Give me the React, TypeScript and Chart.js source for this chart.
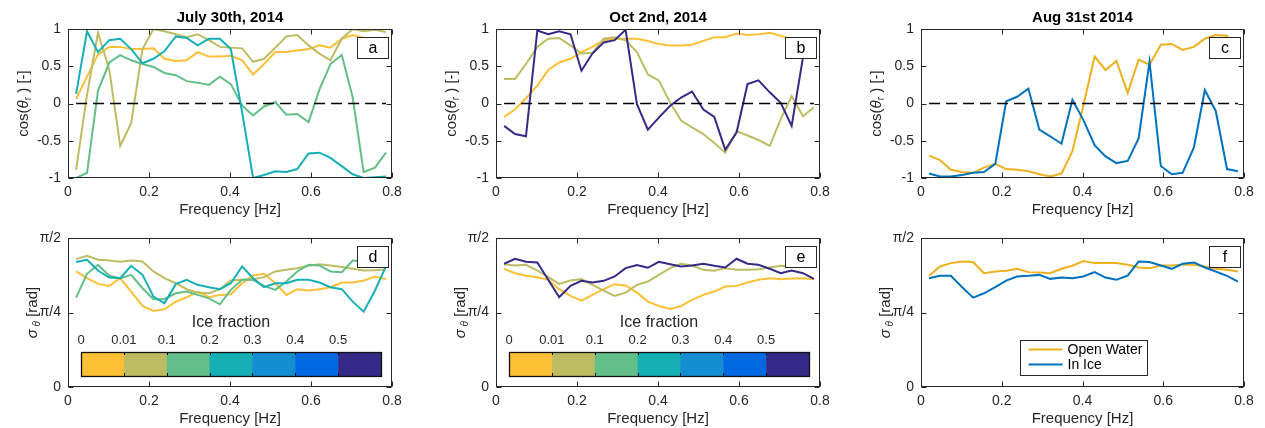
import React, { useEffect, useRef } from "react";
import { Chart, registerables } from "chart.js";

Chart.register(...registerables);

// Frequency bins shared by every panel [Hz]
const freq = [
  0.020, 0.047, 0.074, 0.102, 0.129, 0.156, 0.184, 0.211, 0.238, 0.266,
  0.293, 0.320, 0.348, 0.375, 0.402, 0.430, 0.457, 0.484, 0.512, 0.539,
  0.566, 0.594, 0.621, 0.648, 0.676, 0.703, 0.730, 0.758, 0.785,
];

// July 30th, 2014 — cos(theta_r) per ice fraction
const julyCos0 = [0.06, 0.36, 0.66, 0.76, 0.76, 0.73, 0.73, 0.74, 0.60, 0.57, 0.58, 0.69, 0.63, 0.63, 0.64, 0.58, 0.39, 0.53, 0.69, 0.69, 0.71, 0.73, 0.78, 0.75, 0.87, 0.92, 0.88, 0.87, 0.86];
const julyCos001 = [-0.89, 0.12, 0.95, 0.45, -0.57, -0.26, 0.73, 1.0, 0.97, 0.93, 0.89, 0.93, 0.85, 0.76, 0.75, 0.74, 0.56, 0.60, 0.75, 0.90, 0.92, 0.78, 0.67, 0.58, 0.87, 1.0, 0.97, 0.99, 0.96];
const julyCos01 = [-1.0, -0.93, 0.17, 0.55, 0.65, 0.58, 0.53, 0.49, 0.41, 0.38, 0.30, 0.28, 0.25, 0.36, 0.26, -0.03, -0.16, -0.04, 0.02, -0.15, -0.14, -0.25, 0.19, 0.53, 0.65, 0.08, -0.92, -0.86, -0.66];
const julyCos02 = [0.13, 0.97, 0.69, 0.85, 0.87, 0.73, 0.54, 0.60, 0.70, 0.90, 0.88, 0.78, 0.87, 0.87, 0.73, -0.12, -1.0, -0.96, -0.91, -0.92, -0.88, -0.67, -0.66, -0.73, -0.84, -0.95, -1.0, -0.99, -0.98];

// Oct 2nd, 2014 — cos(theta_r)
const octCos0 = [-0.18, -0.08, 0.07, 0.24, 0.45, 0.55, 0.60, 0.69, 0.76, 0.85, 0.87, 0.87, 0.87, 0.84, 0.80, 0.78, 0.78, 0.79, 0.84, 0.89, 0.89, 0.94, 0.92, 0.93, 0.95, 0.91, 0.86, 0.84, 0.83];
const octCos001 = [0.33, 0.33, 0.53, 0.76, 0.87, 0.88, 0.78, 0.67, 0.68, 0.87, 0.89, 0.85, 0.69, 0.39, 0.31, 0.01, -0.23, -0.32, -0.41, -0.53, -0.66, -0.37, -0.43, -0.49, -0.57, -0.21, 0.10, -0.17, -0.05];
const octCos05 = [-0.30, -0.41, -0.44, 0.98, 0.93, 0.97, 0.93, 0.44, 0.67, 0.82, 0.85, 0.99, -0.01, -0.35, -0.19, -0.03, 0.08, 0.16, -0.08, -0.18, -0.62, -0.39, 0.26, 0.31, 0.15, 0.01, -0.30, 0.62, 0.88];

// Aug 31st 2014 — cos(theta_r)
const augCosOpen = [-0.70, -0.76, -0.89, -0.92, -0.93, -0.86, -0.81, -0.88, -0.89, -0.91, -0.95, -0.98, -0.94, -0.64, -0.03, 0.63, 0.45, 0.57, 0.14, 0.59, 0.52, 0.79, 0.80, 0.72, 0.76, 0.87, 0.92, 0.91, 0.60];
const augCosIce = [-0.94, -0.98, -0.98, -0.96, -0.93, -0.92, -0.81, 0.03, 0.09, 0.20, -0.35, -0.44, -0.54, 0.05, -0.22, -0.56, -0.71, -0.80, -0.77, -0.47, 0.56, -0.84, -0.95, -0.93, -0.59, 0.18, -0.10, -0.88, -0.91];

// July 30th, 2014 — directional spread sigma_theta [rad]
const julySig0 = [1.218, 1.147, 1.087, 1.066, 1.147, 1.006, 0.854, 0.801, 0.819, 0.900, 0.946, 1.006, 0.946, 0.971, 0.978, 1.094, 1.175, 1.193, 1.094, 0.971, 1.031, 1.017, 1.031, 1.052, 1.101, 1.101, 1.122, 1.165, 1.137];
const julySig001 = [1.348, 1.384, 1.341, 1.334, 1.320, 1.334, 1.324, 1.218, 1.147, 1.094, 1.031, 0.995, 0.988, 1.031, 1.122, 1.130, 1.137, 1.158, 1.218, 1.235, 1.253, 1.278, 1.295, 1.281, 1.264, 1.246, 1.228, 1.230, 1.240];
const julySig01 = [0.942, 1.193, 1.288, 1.172, 1.147, 1.182, 1.041, 0.925, 0.925, 0.988, 1.006, 0.971, 0.935, 0.872, 1.024, 1.130, 1.130, 1.066, 1.024, 1.112, 1.218, 1.288, 1.281, 1.218, 1.211, 1.334, 1.324, 1.330, 1.330];
const julySig02 = [1.317, 1.341, 1.228, 1.154, 1.147, 1.278, 1.182, 0.953, 0.882, 1.084, 1.130, 1.077, 1.052, 1.031, 1.094, 1.271, 1.147, 1.052, 1.094, 1.094, 1.130, 1.130, 1.101, 1.052, 1.031, 0.900, 0.794, 1.017, 1.271];

// Oct 2nd, 2014 — sigma_theta [rad]
const octSig0 = [1.246, 1.200, 1.172, 1.158, 1.130, 1.031, 0.960, 0.911, 0.971, 1.031, 1.084, 1.070, 0.995, 0.900, 0.854, 0.822, 0.854, 0.918, 0.971, 1.006, 1.059, 1.066, 1.101, 1.130, 1.147, 1.137, 1.144, 1.147, 1.137];
const octSig001 = [1.295, 1.281, 1.288, 1.228, 1.158, 1.087, 1.122, 1.137, 1.077, 1.017, 0.960, 0.995, 1.077, 1.112, 1.182, 1.253, 1.299, 1.281, 1.235, 1.225, 1.253, 1.235, 1.235, 1.242, 1.260, 1.278, 1.270, 1.270, 1.270];
const octSig05 = [1.299, 1.352, 1.320, 1.313, 1.130, 0.946, 1.066, 1.119, 1.101, 1.119, 1.165, 1.253, 1.285, 1.257, 1.320, 1.295, 1.271, 1.281, 1.299, 1.278, 1.260, 1.352, 1.299, 1.288, 1.246, 1.200, 1.228, 1.200, 1.140];

// Aug 31st 2014 — sigma_theta [rad]
const augSigOpen = [1.172, 1.271, 1.306, 1.324, 1.317, 1.200, 1.218, 1.225, 1.246, 1.211, 1.207, 1.200, 1.246, 1.278, 1.327, 1.306, 1.306, 1.306, 1.288, 1.260, 1.253, 1.281, 1.281, 1.288, 1.288, 1.271, 1.246, 1.235, 1.218];
const augSigIce = [1.147, 1.172, 1.172, 1.052, 0.942, 0.988, 1.052, 1.122, 1.165, 1.172, 1.182, 1.140, 1.154, 1.147, 1.165, 1.211, 1.154, 1.130, 1.175, 1.324, 1.317, 1.281, 1.246, 1.299, 1.313, 1.260, 1.218, 1.172, 1.112];

// Axis ticks and labels
const xTickValues = [0, 0.2, 0.4, 0.6, 0.8];
const xTickLabels = ["0", "0.2", "0.4", "0.6", "0.8"];
const cosTickValues = [-1, -0.5, 0, 0.5, 1];
const cosTickLabels = ["-1", "-0.5", "0", "0.5", "1"];
const sigmaTickValues = [0, Math.PI / 4, Math.PI / 2];
const sigmaTickLabels = ["0", "π/4", "π/2"];

// Ice-fraction colour scale
const iceFractionLabels = ["0", "0.01", "0.1", "0.2", "0.3", "0.4", "0.5"];
const iceColors = ["#FCC036", "#BEBC63", "#63BF87", "#16AFB5", "#148ED0", "#0068E1", "#352A87"];

const titles = ["July 30th, 2014", "Oct 2nd, 2014", "Aug 31st 2014"];
const legendLabels = ["Open Water", "In Ice"];
const openWaterColor = "#EDB120";
const inIceColor = "#0072BD";

const FONT = '"Liberation Sans", Arial, Helvetica, sans-serif';
const INK = "#262626";
const TICK_SIZE = 14;
const LABEL_SIZE = 15;

type Rect = { l: number; t: number; r: number; b: number };
type Series = { values: number[]; color: string };
type PanelSpec = {
  key: string;
  canvas: Rect;
  plot: Rect;
  title?: string;
  kind: "cos" | "sigma";
  letter: string;
  series: Series[];
  colorbar?: boolean;
  legend?: boolean;
};

const TOP: [number, number] = [29, 178];
const BOTTOM: [number, number] = [238, 387];
const COLS = [
  { cl: 0, cr: 420, pl: 68, pr: 392 },
  { cl: 420, cr: 840, pl: 496, pr: 820 },
  { cl: 840, cr: 1265, pl: 921, pr: 1244 },
];

const panel = (col: number, row: number) => {
  const c = COLS[col];
  const [pt, pb] = row === 0 ? TOP : BOTTOM;
  return {
    canvas: { l: c.cl, r: c.cr, t: row === 0 ? 0 : 222, b: row === 0 ? 226 : 428 },
    plot: { l: c.pl, r: c.pr, t: pt, b: pb },
  };
};

const PANELS: PanelSpec[] = [
  {
    key: "a", ...panel(0, 0), title: titles[0], kind: "cos", letter: "a",
    series: [
      { values: julyCos0, color: iceColors[0] },
      { values: julyCos001, color: iceColors[1] },
      { values: julyCos01, color: iceColors[2] },
      { values: julyCos02, color: iceColors[3] },
    ],
  },
  {
    key: "b", ...panel(1, 0), title: titles[1], kind: "cos", letter: "b",
    series: [
      { values: octCos0, color: iceColors[0] },
      { values: octCos001, color: iceColors[1] },
      { values: octCos05, color: iceColors[6] },
    ],
  },
  {
    key: "c", ...panel(2, 0), title: titles[2], kind: "cos", letter: "c",
    series: [
      { values: augCosOpen, color: openWaterColor },
      { values: augCosIce, color: inIceColor },
    ],
  },
  {
    key: "d", ...panel(0, 1), kind: "sigma", letter: "d", colorbar: true,
    series: [
      { values: julySig0, color: iceColors[0] },
      { values: julySig001, color: iceColors[1] },
      { values: julySig01, color: iceColors[2] },
      { values: julySig02, color: iceColors[3] },
    ],
  },
  {
    key: "e", ...panel(1, 1), kind: "sigma", letter: "e", colorbar: true,
    series: [
      { values: octSig0, color: iceColors[0] },
      { values: octSig001, color: iceColors[1] },
      { values: octSig05, color: iceColors[6] },
    ],
  },
  {
    key: "f", ...panel(2, 1), kind: "sigma", letter: "f", legend: true,
    series: [
      { values: augSigOpen, color: openWaterColor },
      { values: augSigIce, color: inIceColor },
    ],
  },
];

type Run = { text: string; size: number; italic?: boolean; bold?: boolean; dy?: number };

const fontOf = (r: Run) =>
  `${r.italic ? "italic " : ""}${r.bold ? "bold " : ""}${r.size}px ${FONT}`;

// Draws a row of mixed-style text runs centred on (cx, cy); optionally rotated to read bottom-up.
function drawRuns(ctx: CanvasRenderingContext2D, runs: Run[], cx: number, cy: number, rotate: boolean) {
  ctx.save();
  ctx.translate(cx, cy);
  if (rotate) ctx.rotate(-Math.PI / 2);
  ctx.textAlign = "left";
  ctx.textBaseline = "alphabetic";
  ctx.fillStyle = INK;
  const widths = runs.map((r) => {
    ctx.font = fontOf(r);
    return ctx.measureText(r.text).width;
  });
  const total = widths.reduce((s, w) => s + w, 0);
  const base = runs[0].size * 0.36;
  let x = -total / 2;
  runs.forEach((r, i) => {
    ctx.font = fontOf(r);
    ctx.fillText(r.text, x, base + (r.dy || 0));
    x += widths[i];
  });
  ctx.restore();
}

const cosLabel: Run[] = [
  { text: "cos(", size: LABEL_SIZE },
  { text: "θ", size: LABEL_SIZE, italic: true },
  { text: "r", size: 10, dy: 3 },
  { text: " ) [-]", size: LABEL_SIZE },
];
const sigmaLabel: Run[] = [
  { text: "σ", size: LABEL_SIZE, italic: true },
  { text: " θ", size: 10, italic: true, dy: 3 },
  { text: " [rad]", size: LABEL_SIZE },
];

function decorPlugin(spec: PanelSpec) {
  return {
    id: "decor" + spec.key,
    afterDatasetsDraw(chart: Chart) {
      const ctx = chart.ctx;
      const a = chart.chartArea;
      const xs = chart.scales.x;
      const ys = chart.scales.y;
      const L = Math.round(a.left) + 0.5;
      const R = Math.round(a.right) - 0.5;
      const T = Math.round(a.top) + 0.5;
      const B = Math.round(a.bottom) - 0.5;
      ctx.save();

      // Axes box with inward tick marks on all four sides
      ctx.strokeStyle = INK;
      ctx.lineWidth = 1;
      ctx.strokeRect(L, T, R - L, B - T);
      const tl = 5;
      ctx.beginPath();
      xTickValues.forEach((v) => {
        const px = Math.round(xs.getPixelForValue(v)) + 0.5;
        ctx.moveTo(px, B); ctx.lineTo(px, B - tl);
        ctx.moveTo(px, T); ctx.lineTo(px, T + tl);
      });
      const yv = spec.kind === "cos" ? cosTickValues : sigmaTickValues;
      yv.forEach((v) => {
        const py = Math.round(ys.getPixelForValue(v)) + 0.5;
        ctx.moveTo(L, py); ctx.lineTo(L + tl, py);
        ctx.moveTo(R, py); ctx.lineTo(R - tl, py);
      });
      ctx.stroke();

      // Panel letter box
      const bw = 31, bh = 21;
      const bx = Math.round(a.right) - 4 - bw + 0.5;
      const by = Math.round(a.top) + 8 + 0.5;
      ctx.fillStyle = "#ffffff";
      ctx.fillRect(bx, by, bw, bh);
      ctx.strokeStyle = INK;
      ctx.strokeRect(bx, by, bw, bh);
      ctx.fillStyle = "#000";
      ctx.font = `16px ${FONT}`;
      ctx.textAlign = "center";
      ctx.textBaseline = "middle";
      ctx.fillText(spec.letter, bx + bw / 2, by + bh / 2 + 1);

      // Ice-fraction colour bar
      if (spec.colorbar) {
        const cbL = Math.round(a.left) + 13;
        const cbT = Math.round(a.top) + 114;
        const cbW = 300, cbH = 24;
        const seg = cbW / iceColors.length;
        iceColors.forEach((c, i) => {
          ctx.fillStyle = c;
          ctx.fillRect(cbL + i * seg, cbT, seg + 0.6, cbH);
        });
        ctx.strokeStyle = "#111";
        ctx.lineWidth = 1.3;
        ctx.strokeRect(cbL + 0.5, cbT + 0.5, cbW, cbH);
        ctx.lineWidth = 1;
        ctx.beginPath();
        for (let i = 1; i < iceColors.length; i++) {
          const px = Math.round(cbL + i * seg) + 0.5;
          ctx.moveTo(px, cbT); ctx.lineTo(px, cbT + 3);
          ctx.moveTo(px, cbT + cbH); ctx.lineTo(px, cbT + cbH - 3);
        }
        ctx.stroke();
        ctx.fillStyle = INK;
        ctx.font = `13px ${FONT}`;
        ctx.textAlign = "center";
        ctx.textBaseline = "middle";
        iceFractionLabels.forEach((lab, i) => {
          ctx.fillText(lab, cbL + i * seg, cbT - 12);
        });
        ctx.font = `16px ${FONT}`;
        ctx.fillText("Ice fraction", cbL + cbW / 2, cbT - 29);
      }

      // Legend box
      if (spec.legend) {
        const lx = Math.round(a.left) + 99 + 0.5;
        const ly = Math.round(a.top) + 102 + 0.5;
        const lw = 127, lh = 35;
        ctx.fillStyle = "#fff";
        ctx.fillRect(lx, ly, lw, lh);
        ctx.strokeStyle = INK;
        ctx.lineWidth = 1;
        ctx.strokeRect(lx, ly, lw, lh);
        const cols = [openWaterColor, inIceColor];
        legendLabels.forEach((lab, i) => {
          const yy = ly + 9 + i * 15;
          ctx.strokeStyle = cols[i];
          ctx.lineWidth = 2;
          ctx.beginPath();
          ctx.moveTo(lx + 8, yy); ctx.lineTo(lx + 42, yy);
          ctx.stroke();
          ctx.fillStyle = "#000";
          ctx.font = `14px ${FONT}`;
          ctx.textAlign = "left";
          ctx.textBaseline = "middle";
          ctx.fillText(lab, lx + 47, yy + 0.5);
        });
      }

      // Titles
      const midX = (a.left + a.right) / 2;
      if (spec.title) {
        ctx.fillStyle = "#000";
        ctx.font = `bold 15px ${FONT}`;
        ctx.textAlign = "center";
        ctx.textBaseline = "middle";
        ctx.fillText(spec.title, midX, a.top - 11);
      }
      drawRuns(ctx, [{ text: "Frequency [Hz]", size: LABEL_SIZE }], midX, a.bottom + 31, false);
      const midY = (a.top + a.bottom) / 2;
      if (spec.kind === "cos") drawRuns(ctx, cosLabel, a.left - 45, midY, true);
      else drawRuns(ctx, sigmaLabel, a.left - 36, midY, true);

      ctx.restore();
    },
  };
}

function buildConfig(spec: PanelSpec): any {
  const { canvas, plot } = spec;
  const datasets: any[] = spec.series.map((s, i) => ({
    data: freq.map((f, k) => ({ x: f, y: s.values[k] })),
    borderColor: s.color,
    borderWidth: 2,
    pointRadius: 0,
    tension: 0,
    fill: false,
    order: 10 - i,
  }));
  if (spec.kind === "cos") {
    datasets.push({
      data: [
        { x: freq[0], y: 0 },
        { x: freq[freq.length - 1], y: 0 },
      ],
      borderColor: "#000",
      borderWidth: 1.6,
      borderDash: [11, 6],
      pointRadius: 0,
      fill: false,
      order: 0,
    });
  }
  const yVals = spec.kind === "cos" ? cosTickValues : sigmaTickValues;
  const yLabs = spec.kind === "cos" ? cosTickLabels : sigmaTickLabels;
  return {
    type: "line",
    data: { datasets },
    options: {
      responsive: false,
      animation: false,
      events: [],
      layout: {
        padding: { left: 0, top: plot.t - canvas.t, right: canvas.r - plot.r, bottom: 0 },
      },
      plugins: {
        legend: { display: false },
        tooltip: { enabled: false },
        title: { display: false },
      },
      scales: {
        x: {
          type: "linear",
          min: 0,
          max: 0.8,
          grid: { display: false, drawTicks: false },
          border: { display: false },
          afterBuildTicks: (s: any) => {
            s.ticks = xTickValues.map((v) => ({ value: v }));
          },
          afterFit: (s: any) => {
            s.height = canvas.b - plot.b;
          },
          ticks: {
            autoSkip: false,
            maxRotation: 0,
            padding: 6,
            color: INK,
            font: { family: FONT, size: TICK_SIZE },
            callback: (_v: any, i: number) => xTickLabels[i],
          },
        },
        y: {
          type: "linear",
          min: spec.kind === "cos" ? -1 : 0,
          max: spec.kind === "cos" ? 1 : Math.PI / 2,
          grid: { display: false, drawTicks: false },
          border: { display: false },
          afterBuildTicks: (s: any) => {
            s.ticks = yVals.map((v) => ({ value: v }));
          },
          afterFit: (s: any) => {
            s.width = plot.l - canvas.l;
          },
          ticks: {
            autoSkip: false,
            padding: 7,
            color: INK,
            font: { family: FONT, size: TICK_SIZE },
            callback: (_v: any, i: number) => yLabs[i],
          },
        },
      },
    },
    plugins: [decorPlugin(spec)],
  };
}

function Panel({ spec }: { spec: PanelSpec }) {
  const ref = useRef<HTMLCanvasElement>(null);
  const w = spec.canvas.r - spec.canvas.l;
  const h = spec.canvas.b - spec.canvas.t;
  useEffect(() => {
    if (!ref.current) return;
    const chart = new Chart(ref.current, buildConfig(spec));
    return () => chart.destroy();
  }, [spec]);
  return (
    <canvas
      ref={ref}
      width={w}
      height={h}
      style={{ position: "absolute", left: spec.canvas.l, top: spec.canvas.t, width: w, height: h }}
    />
  );
}

export default function App() {
  return (
    <div style={{ position: "absolute", left: 0, top: 0, width: 1265, height: 428, background: "#fff" }}>
      {PANELS.map((p) => (
        <Panel key={p.key} spec={p} />
      ))}
    </div>
  );
}
